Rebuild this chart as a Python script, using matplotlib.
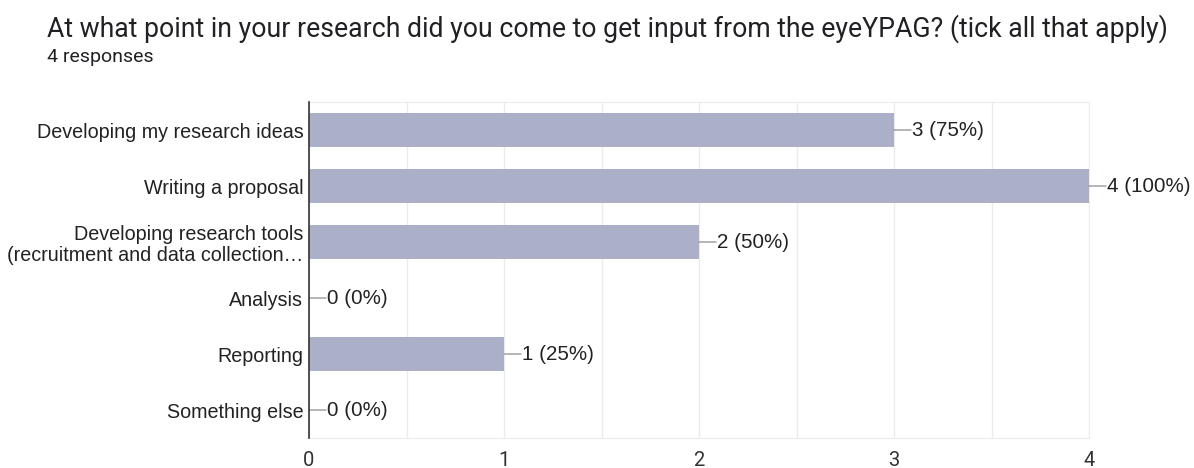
import matplotlib.pyplot as plt
import numpy as np
from matplotlib.ticker import MultipleLocator

categories = ['Developing my research ideas', 'Writing a proposal',
              'Developing research tools\n(recruitment and data collection\u2026',
              'Analysis', 'Reporting', 'Something else']
counts = [3, 4, 2, 0, 1, 0]
total = 4
xticks = [0, 1, 2, 3, 4]

bar_color = '#abafc8'

fig = plt.figure(figsize=(11.94, 4.68), dpi=100)
ax = fig.add_axes([309/1194, 1-438/468, 780/1194, 336/468])

y = np.arange(len(categories))
ax.barh(y, counts, height=0.6, color=bar_color, zorder=3)

ax.set_xlim(0, 4)
ax.set_ylim(len(categories)-0.5, -0.5)
ax.xaxis.set_major_locator(MultipleLocator(1))
ax.xaxis.set_minor_locator(MultipleLocator(0.5))
ax.grid(True, which='both', axis='x', color='#ebebeb', lw=1, zorder=0)
ax.set_xticks(xticks)
ax.set_xticklabels([str(t) for t in xticks], fontsize=14.5, family='Roboto', color='#333333')
ax.tick_params(axis='x', which='both', length=0, pad=9)
ax.tick_params(axis='y', length=0, pad=4)
ax.set_yticks(y)
ax.set_yticklabels(categories, fontsize=14.2, family='Liberation Sans', color='#222222',
                   linespacing=1.15)

for s in ['top', 'right', 'bottom']:
    ax.spines[s].set_color('#ebebeb')
ax.spines['left'].set_color('#333333')
ax.spines['left'].set_linewidth(1.2)
ax.spines['left'].set_zorder(4)

for i, c in enumerate(counts):
    lab = '%d (%d%%)' % (c, round(c / total * 100))
    ax.annotate('', xy=(c, i), xytext=(17, 0), textcoords='offset pixels',
                xycoords='data', annotation_clip=False,
                arrowprops=dict(arrowstyle='-', color='#999999', lw=1, shrinkA=0, shrinkB=0))
    ax.annotate(lab, xy=(c, i), xytext=(18, 0), textcoords='offset pixels',
                va='center', ha='left', fontsize=14.8, family='Liberation Sans',
                color='#222222', annotation_clip=False)

fig.text(47/1194, 1-29/468, 'At what point in your research did you come to get input from the eyeYPAG? (tick all that apply)',
         fontsize=19.2, family='Roboto', color='#202124', va='center', ha='left')
fig.text(47/1194, 1-57/468, '4 responses', fontsize=14, family='Roboto', color='#202124', va='center', ha='left')

fig.savefig('out.png', dpi=100)
